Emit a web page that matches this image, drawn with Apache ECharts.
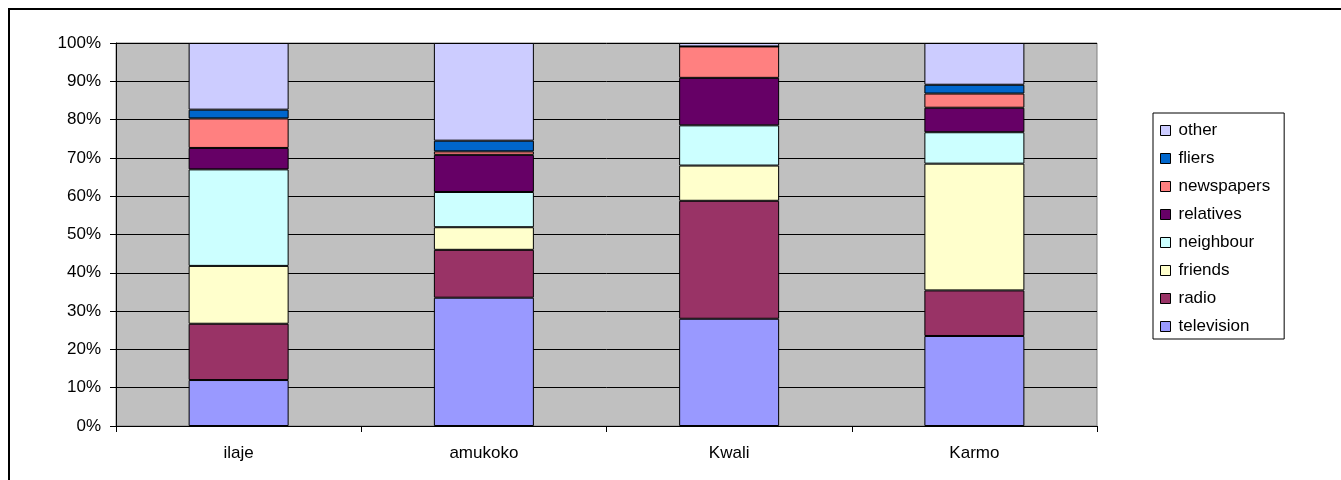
<!DOCTYPE html>
<html>
<head>
<meta charset="utf-8">
<script src="https://cdn.jsdelivr.net/npm/echarts@6/dist/echarts.min.js"></script>
<style>
  html, body { margin: 0; padding: 0; background: #fff; }
  #chart { width: 1341px; height: 480px; }
</style>
</head>
<body>
<div id="chart"></div>
<script>
// Sources of information by area, shares in percent (each column sums to 100)
const categories = ['ilaje', 'amukoko', 'Kwali', 'Karmo'];
const television = [12.0, 33.5, 28.0, 23.5];
const radio      = [14.7, 12.5, 30.8, 11.9];
const friends    = [15.1, 5.9, 9.2, 33.1];
const neighbour  = [25.2, 9.2, 10.5, 8.2];
const relatives  = [5.6, 9.7, 12.4, 6.4];
const newspapers = [7.7, 0.9, 8.2, 3.7];
const fliers     = [2.3, 2.8, 0.0, 2.3];
const other      = [17.4, 25.5, 0.9, 10.9];

const seriesDefs = [
  ['television', television, '#9999FF'],
  ['radio', radio, '#993366'],
  ['friends', friends, '#FFFFCC'],
  ['neighbour', neighbour, '#CCFFFF'],
  ['relatives', relatives, '#660066'],
  ['newspapers', newspapers, '#FF8080'],
  ['fliers', fliers, '#0066CC'],
  ['other', other, '#CCCCFF']
];

const FONT = 'Liberation Sans, Arial, sans-serif';
const chart = echarts.init(document.getElementById('chart'), null, { renderer: 'canvas' });

chart.setOption({
  animation: false,
  backgroundColor: '#fff',
  textStyle: { fontFamily: FONT },
  graphic: [{
    type: 'rect',
    shape: { x: 9, y: 9, width: 1400, height: 600 },
    style: { fill: null, stroke: '#000', lineWidth: 2 },
    silent: true
  }],
  grid: {
    left: 116, top: 43, right: 244, bottom: 54,
    show: true, backgroundColor: '#C0C0C0', borderColor: '#808080', borderWidth: 1
  },
  legend: {
    orient: 'vertical',
    left: 1153, top: 113,
    padding: [9, 14, 4, 7],
    itemGap: 11,
    itemWidth: 10, itemHeight: 10,
    icon: 'rect',
    borderColor: '#000', borderWidth: 1,
    itemStyle: { borderColor: '#000', borderWidth: 1 },
    textStyle: { fontFamily: FONT, fontSize: 17, color: '#000', padding: [0, 0, 0, 3] },
    data: seriesDefs.map(d => d[0]).reverse()
  },
  xAxis: {
    type: 'category',
    data: categories,
    axisLine: { lineStyle: { color: '#000', width: 1 } },
    axisTick: { show: true, length: 6, lineStyle: { color: '#000' } },
    axisLabel: { color: '#000', fontSize: 17, fontFamily: FONT, margin: 19 },
    splitLine: { show: false }
  },
  yAxis: {
    type: 'value',
    min: 0, max: 100, interval: 10,
    axisLine: { show: true, lineStyle: { color: '#000', width: 1 } },
    axisTick: { show: true, length: 6, lineStyle: { color: '#000' } },
    axisLabel: { color: '#000', fontSize: 17, fontFamily: FONT, margin: 15, formatter: '{value}%' },
    splitLine: { show: true, lineStyle: { color: '#000', width: 1 } }
  },
  series: seriesDefs.map(([name, values, color]) => ({
    name: name,
    type: 'bar',
    stack: 'total',
    barWidth: 100,
    data: values,
    itemStyle: { color: color, borderColor: '#000', borderWidth: 1 }
  }))
});
</script>
</body>
</html>
